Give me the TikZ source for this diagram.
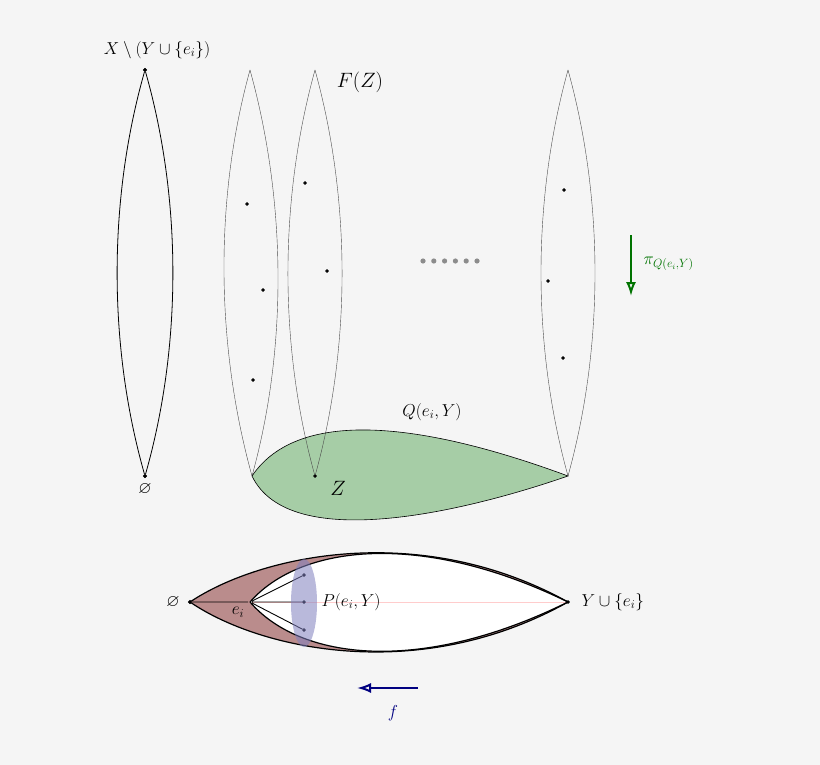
\documentclass[tikz,border=0pt]{standalone}
\usepackage{amssymb}
\usetikzlibrary{arrows.meta}
\begin{document}
\begin{tikzpicture}[x=1pt,y=-1pt,
  lens/.style={draw=black!70,line width=0.4pt},
  pt/.style={circle,draw=black,fill=black,inner sep=0pt,minimum size=3.5pt},
  lbl/.style={font=\fontsize{17}{19}\selectfont},
  thick lens/.style={draw=black,line width=1.2pt}]
\fill[black!4] (0,0) rectangle (820,765);
\useasboundingbox (0,0) rectangle (820,765);
% left lens
\node[pt] (xt) at (145,70) {};
\node[pt] (xb) at (145,476) {};
\draw[line width=0.8pt] (xt) .. controls (108,200) and (108,346) .. (xb);
\draw[line width=0.8pt] (xt) .. controls (182,200) and (182,346) .. (xb);
\node[lbl,anchor=south] (xl) at (157,62) {$X\setminus(Y\cup\{e_i\})$};
\node[lbl,anchor=north] (em1) at (145,480) {$\varnothing$};
% green region
\coordinate (ga) at (252,476);
\coordinate (gb) at (568,476);
\fill[green!45!black!40!white,fill opacity=0.85] (ga) .. controls (300,405) and (430,425) .. (gb) .. controls (470,510) and (290,555) .. (ga);
% thin lenses
\coordinate (t1) at (250,70); \coordinate (t2) at (315,70); \coordinate (t3) at (568,70);
\node[pt,minimum size=3pt] (zz) at (315,476) {};
\draw[lens] (t1) .. controls (214,200) and (216,346) .. (ga);
\draw[lens] (t1) .. controls (286,200) and (288,346) .. (ga);
\draw[lens] (t2) .. controls (279,200) and (279,346) .. (zz);
\draw[lens] (t2) .. controls (351,200) and (351,346) .. (zz);
\draw[lens] (t3) .. controls (532,200) and (532,346) .. (gb);
\draw[lens] (t3) .. controls (604,200) and (604,346) .. (gb);
\draw[black,line width=0.6pt] (ga) .. controls (300,405) and (430,425) .. (gb) .. controls (470,510) and (290,555) .. (ga);
\foreach \n/\x/\y in {a/247/204,b/263/290,c/253/380,d/305/183,e/327/271,f/564/190,g/548/281,h/563/358}
  \node[pt,minimum size=3pt] (\n) at (\x,\y) {};
\node[font=\fontsize{22}{24}\selectfont] (fz) at (360,82) {$F(Z)$};
\node[font=\fontsize{22}{24}\selectfont] (zl) at (338,488) {$Z$};
\node[lbl] (ql) at (432,412) {$Q(e_i,Y)$};
\foreach \i in {0,...,5} \fill[black!45] (423+\i*10.8,261) circle (2.6);
% green arrow
\coordinate (ga1) at (631,235); \coordinate (ga2) at (631,296);
\draw[green!45!black,line width=2pt,-{Latex[open,length=14pt,width=10pt]}] (ga1) -- (ga2);
\node[text=green!45!black,lbl,anchor=west] (pl) at (640,264) {$\pi_{Q(e_i,Y)}$};
% bottom
\node[pt] (e0) at (190,602) {};
\node[pt] (ei) at (250,602) {};
\node[pt,minimum size=3pt] (yy) at (568,602) {};
\fill[red!40!black!45!white]
  (e0.center) .. controls (260,555) and (420,520) .. (yy.center) .. controls (420,685) and (260,650) .. (e0.center);
\fill[white] (ei.center) .. controls (300,545) and (420,530) .. (yy.center) .. controls (420,675) and (300,660) .. (ei.center);
\draw[red!20,line width=0.4pt] (ei) -- (yy);
\draw[thick lens] (e0.center) .. controls (260,555) and (420,520) .. (yy.center) .. controls (420,685) and (260,650) .. (e0.center);
\draw[thick lens] (ei.center) .. controls (300,545) and (420,530) .. (yy.center) .. controls (420,675) and (300,660) .. (ei.center);
\node[pt,minimum size=3pt] (p1) at (304,575) {};
\node[pt,minimum size=3pt] (p2) at (304,602) {};
\node[pt,minimum size=3pt] (p3) at (304,630) {};
\draw[line width=0.9pt] (e0) -- (ei) (ei) -- (p1) (ei) -- (p2) (ei) -- (p3);
\fill[blue!50!black!50!white,fill opacity=0.55] (304,603) ellipse (13 and 44);
\node[lbl] (el) at (173,602) {$\varnothing$};
\node[lbl] (eil) at (238,612) {$e_i$};
\node[lbl,anchor=west] (pel) at (318,602) {$P(e_i,Y)$};
\node[lbl,anchor=west] (yl) at (578,602) {$Y\cup\{e_i\}$};
\coordinate (f1) at (418,688); \coordinate (f2) at (357,688);
\draw[blue!50!black,line width=2pt,-{Latex[open,length=14pt,width=10pt]}] (f1) -- (f2);
\node[lbl,text=blue!50!black] (fl) at (393,713) {$f$};
\end{tikzpicture}
\end{document}
